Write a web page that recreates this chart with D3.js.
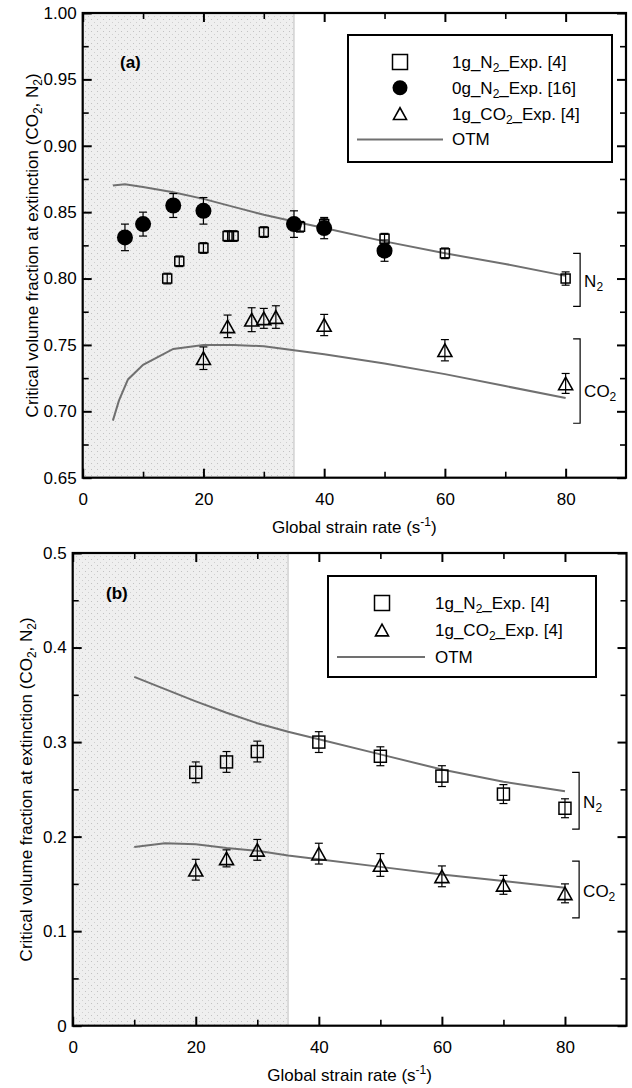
<!DOCTYPE html>
<html>
<head>
<meta charset="utf-8">
<script src="https://cdn.jsdelivr.net/npm/d3@7"></script>
<style>
body { margin: 0; background: #fff; }
text { font-family: "Liberation Sans", Arial, sans-serif; fill: #000; }
</style>
</head>
<body>
<svg id="chart" width="632" height="1088"></svg>
<script>
// ---- data, panel (a) : [strain rate, fraction, error] ----
var aN2Exp = [[14,0.800,0.004],[16,0.813,0.004],[20,0.823,0.004],[24,0.832,0.004],[25,0.832,0.004],
              [30,0.835,0.004],[36,0.839,0.004],[40,0.841,0.004],[50,0.830,0.004],[60,0.819,0.004],[80,0.800,0.005]];
var aN2Zero = [[7,0.831,0.010],[10,0.841,0.009],[15,0.855,0.009],[20,0.851,0.010],[35,0.841,0.010],[40,0.838,0.008],[50,0.821,0.008]];
var aCO2Exp = [[20,0.740,0.0085],[24,0.764,0.0085],[28,0.769,0.009],[30,0.770,0.0075],[32,0.771,0.0085],
               [40,0.765,0.008],[60,0.746,0.008],[80,0.721,0.0075]];
var aOtmN2 = [[5,0.870],[7,0.871],[10,0.869],[15,0.865],[20,0.860],[25,0.854],[30,0.848],[35,0.843],
              [40,0.838],[50,0.828],[60,0.819],[70,0.811],[80,0.802]];
var aOtmCO2 = [[5,0.693],[6,0.708],[7.5,0.724],[10,0.735],[15,0.747],[20,0.750],[25,0.750],[30,0.749],
               [35,0.746],[40,0.743],[50,0.736],[60,0.728],[70,0.719],[80,0.710]];
var aYTicks = [0.65,0.70,0.75,0.80,0.85,0.90,0.95,1.00];
var aYMinor = [0.675,0.725,0.775,0.825,0.875,0.925,0.975];

// ---- data, panel (b) ----
var bN2Exp = [[20,0.268,0.011],[25,0.279,0.011],[30,0.290,0.011],[40,0.300,0.011],[50,0.285,0.010],
              [60,0.264,0.011],[70,0.245,0.010],[80,0.230,0.010]];
var bCO2Exp = [[20,0.165,0.011],[25,0.177,0.009],[30,0.186,0.011],[40,0.182,0.011],[50,0.170,0.012],
               [60,0.158,0.011],[70,0.149,0.010],[80,0.140,0.010]];
var bOtmN2 = [[10,0.369],[15,0.356],[20,0.343],[25,0.331],[30,0.320],[35,0.311],[40,0.303],[50,0.287],
              [60,0.271],[70,0.258],[80,0.248]];
var bOtmCO2 = [[10,0.189],[15,0.193],[20,0.192],[25,0.188],[30,0.185],[35,0.180],[40,0.176],[50,0.168],
               [60,0.160],[70,0.153],[80,0.146]];
var bYTicks = [0,0.1,0.2,0.3,0.4,0.5];
var bYMinor = [0.05,0.15,0.25,0.35,0.45];

var xTicks = [0,20,40,60,80];
var xMinor = [10,30,50,70];
var shadeEnd = 35;

var svg = d3.select("#chart");

// dotted grey fill for the low strain region
var pat = svg.append("defs").append("pattern")
    .attr("id","dots").attr("patternUnits","userSpaceOnUse")
    .attr("width",6).attr("height",6);
pat.append("rect").attr("width",6).attr("height",6).attr("fill","#efefef");
pat.append("rect").attr("x",1).attr("y",1).attr("width",1).attr("height",1).attr("fill","#c2c2c2");
pat.append("rect").attr("x",4).attr("y",4).attr("width",1).attr("height",1).attr("fill","#cfcfcf");

// text with sub/superscripts
function rich(t, parts) {
    var shift = 0;
    parts.forEach(function(p) {
        var s = t.append("tspan").text(p[0]);
        var want = p[1] == "sub" ? 4 : (p[1] == "sup" ? -7 : 0);
        if (want != shift) { s.attr("dy", want - shift); shift = want; }
        if (p[1]) s.style("font-size","12px");
    });
}

function marker(g, kind, cx, cy, size) {
    if (kind == "square") {
        g.append("rect").attr("x",cx-size/2).attr("y",cy-size/2)
            .attr("width",size).attr("height",size)
            .attr("fill","none").attr("stroke","#000").attr("stroke-width",1.5);
    } else if (kind == "circle") {
        g.append("circle").attr("cx",cx).attr("cy",cy).attr("r",size/2).attr("fill","#000");
    } else {
        var h = size*0.9;
        g.append("path")
            .attr("d","M"+cx+","+(cy-h/2)+"L"+(cx+size/2)+","+(cy+h/2)+"L"+(cx-size/2)+","+(cy+h/2)+"Z")
            .attr("fill","none").attr("stroke","#000").attr("stroke-width",1.6);
    }
}

function drawPanel(o) {
    var g = svg.append("g");
    var x = d3.scaleLinear().domain([0,90]).range([o.left,o.right]);
    var y = d3.scaleLinear().domain([o.yTicks[0], o.yTicks[o.yTicks.length-1]]).range([o.bottom,o.top]);

    g.append("rect").attr("x",x(0)).attr("y",o.top)
        .attr("width",x(shadeEnd)-x(0)).attr("height",o.bottom-o.top)
        .attr("fill","url(#dots)");
    g.append("line").attr("x1",x(shadeEnd)).attr("x2",x(shadeEnd))
        .attr("y1",o.top).attr("y2",o.bottom)
        .attr("stroke","#c8c8c8").attr("stroke-width",1.2);

    // ticks on all four sides, pointing in
    function ticks(axis, tr, vals, len, w, labels) {
        var a = g.append("g").attr("transform",tr)
            .call(axis.tickValues(vals).tickSize(-len).tickPadding(labels ? labels.pad : 0)
                .tickFormat(labels ? labels.fmt : ""));
        a.select(".domain").remove();
        a.selectAll(".tick line").attr("stroke","#000").attr("stroke-width",w);
        a.selectAll(".tick text").style("font-size","17px")
            .style("font-family","'Liberation Sans', Arial, sans-serif");
    }
    ticks(d3.axisBottom(x), "translate(0,"+o.bottom+")", xTicks, 9, 2, {pad:15, fmt:d3.format("d")});
    ticks(d3.axisBottom(x), "translate(0,"+o.bottom+")", xMinor, 6, 1.6);
    ticks(d3.axisTop(x), "translate(0,"+o.top+")", xTicks, 9, 2);
    ticks(d3.axisTop(x), "translate(0,"+o.top+")", xMinor, 6, 1.6);
    ticks(d3.axisLeft(y), "translate("+o.left+",0)", o.yTicks, 9, 2, {pad:6, fmt:o.yFmt});
    ticks(d3.axisLeft(y), "translate("+o.left+",0)", o.yMinor, 6, 1.6);
    ticks(d3.axisRight(y), "translate("+o.right+",0)", o.yTicks, 9, 2);
    ticks(d3.axisRight(y), "translate("+o.right+",0)", o.yMinor, 6, 1.6);

    g.append("rect").attr("x",o.left).attr("y",o.top)
        .attr("width",o.right-o.left).attr("height",o.bottom-o.top)
        .attr("fill","none").attr("stroke","#000").attr("stroke-width",2.2);

    // model curves
    var line = d3.line().x(function(d){ return x(d[0]); }).y(function(d){ return y(d[1]); });
    o.lines.forEach(function(l) {
        g.append("path").datum(l).attr("d",line)
            .attr("fill","none").attr("stroke","#707070").attr("stroke-width",2);
    });

    // experiments
    o.series.forEach(function(s) {
        s.data.forEach(function(d) {
            var cx = x(d[0]), cy = y(d[1]);
            marker(g, s.kind, cx, cy, s.size);
            var y1 = y(d[1]+d[2]), y2 = y(d[1]-d[2]);
            g.append("line").attr("x1",cx).attr("x2",cx).attr("y1",y1).attr("y2",y2)
                .attr("stroke","#000").attr("stroke-width",1.2);
            [y1,y2].forEach(function(yy) {
                g.append("line").attr("x1",cx-4).attr("x2",cx+4).attr("y1",yy).attr("y2",yy)
                    .attr("stroke","#000").attr("stroke-width",1.2);
            });
        });
    });

    // brackets with gas names
    o.brackets.forEach(function(b) {
        var bx = x(b.x);
        g.append("path")
            .attr("d","M"+(bx-7)+","+y(b.y0)+"H"+bx+"V"+y(b.y1)+"H"+(bx-7))
            .attr("fill","none").attr("stroke","#000").attr("stroke-width",1.2);
        var t = g.append("text").attr("x",bx+4).attr("y",y(b.ly)+6).style("font-size","17px");
        rich(t, b.label);
    });

    g.append("text").attr("x",o.tagX).attr("y",o.tagY)
        .style("font-size","17px").style("font-weight","bold").text(o.tag);

    // legend
    var L = o.legend;
    g.append("rect").attr("x",L.x).attr("y",L.y).attr("width",L.w).attr("height",L.h)
        .attr("fill","#fff").attr("stroke","#000").attr("stroke-width",2);
    L.rows.forEach(function(r, i) {
        var ry = L.y + L.first + i*L.step;
        if (r.kind == "line") {
            g.append("line").attr("x1",L.lineX0).attr("x2",L.lineX1).attr("y1",ry).attr("y2",ry)
                .attr("stroke","#707070").attr("stroke-width",2);
        } else {
            marker(g, r.kind, L.markX, ry, r.kind == "triangle" ? 13 : 15);
        }
        var t = g.append("text").attr("x",L.textX).attr("y",ry+6).style("font-size","17px");
        rich(t, r.label);
    });

    // axis titles
    var xt = g.append("text").attr("x",(o.left+o.right)/2).attr("y",o.xTitleY)
        .attr("text-anchor","middle").style("font-size","17px");
    rich(xt, [["Global strain rate (s"],["-1","sup"],[")"]]);
    var yt = g.append("text")
        .attr("transform","translate("+o.yTitleX+","+((o.top+o.bottom)/2)+") rotate(-90)")
        .attr("text-anchor","middle").style("font-size","17px");
    rich(yt, [["Critical volume fraction at extinction (CO"],["2","sub"],[", N"],["2","sub"],[")"]]);
}

drawPanel({
    left: 82.7, right: 626, top: 13, bottom: 477.7,
    yTicks: aYTicks, yMinor: aYMinor, yFmt: d3.format(".2f"),
    lines: [aOtmN2, aOtmCO2],
    series: [
        {kind:"square", size:9, data:aN2Exp},
        {kind:"circle", size:16, data:aN2Zero},
        {kind:"triangle", size:14, data:aCO2Exp}
    ],
    brackets: [
        {x:82.4, y0:0.819, y1:0.779, ly:0.798, label:[["N"],["2","sub"]]},
        {x:82.4, y0:0.7545, y1:0.691, ly:0.715, label:[["CO"],["2","sub"]]}
    ],
    tag: "(a)", tagX: 120, tagY: 68,
    legend: {x:348, y:35, w:264, h:127, first:27, step:25.8, markX:400, textX:452,
             lineX0:357, lineX1:443,
             rows: [
                {kind:"square", label:[["1g_N"],["2","sub"],["_Exp. [4]"]]},
                {kind:"circle", label:[["0g_N"],["2","sub"],["_Exp. [16]"]]},
                {kind:"triangle", label:[["1g_CO"],["2","sub"],["_Exp. [4]"]]},
                {kind:"line", label:[["OTM"]]}
             ]},
    xTitleY: 533, yTitleX: 38
});

drawPanel({
    left: 72.7, right: 626.5, top: 553, bottom: 1025.7,
    yTicks: bYTicks, yMinor: bYMinor, yFmt: function(d){ return d == 0 ? "0" : d3.format(".1f")(d); },
    lines: [bOtmN2, bOtmCO2],
    series: [
        {kind:"square", size:12, data:bN2Exp},
        {kind:"triangle", size:14, data:bCO2Exp}
    ],
    brackets: [
        {x:82.3, y0:0.268, y1:0.208, ly:0.237, label:[["N"],["2","sub"]]},
        {x:82.3, y0:0.174, y1:0.114, ly:0.143, label:[["CO"],["2","sub"]]}
    ],
    tag: "(b)", tagX: 106, tagY: 599,
    legend: {x:328, y:576, w:268, h:101, first:27, step:27, markX:382, textX:435,
             lineX0:337, lineX1:425,
             rows: [
                {kind:"square", label:[["1g_N"],["2","sub"],["_Exp. [4]"]]},
                {kind:"triangle", label:[["1g_CO"],["2","sub"],["_Exp. [4]"]]},
                {kind:"line", label:[["OTM"]]}
             ]},
    xTitleY: 1081, yTitleX: 32
});
</script>
</body>
</html>
